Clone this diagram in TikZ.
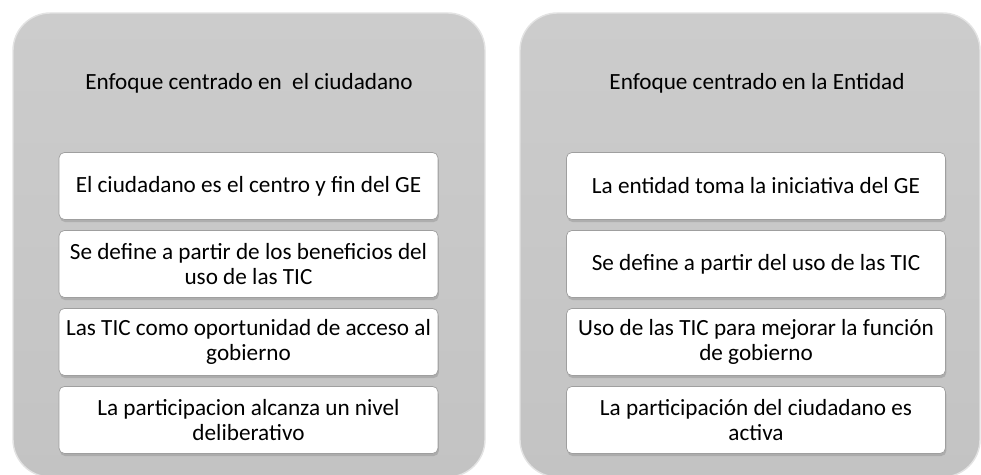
\documentclass[tikz,border=0pt]{standalone}
\usepackage{fontspec}
\setmainfont{Carlito}
\usetikzlibrary{positioning,shadows}

\begin{document}
\begin{tikzpicture}[x=0.02cm, y=-0.02cm, node distance=1.56cm,
    panel/.style={rounded corners=0.75cm, top color=gray!40, bottom color=gray!47, draw=gray!22, line width=0.8pt},
    item/.style={rectangle, draw=gray!75, fill=white, rounded corners=3pt, minimum width=7.58cm, minimum height=1.34cm, inner sep=2pt, align=center, font=\fontsize{13.2}{13.8}\selectfont, drop shadow={shadow xshift=0.5pt, shadow yshift=-1.5pt, opacity=0.35}},
    title/.style={font=\fontsize{13.2}{14}\selectfont}]
    \useasboundingbox (0,0) rectangle (981,475);

    % panels
    \path[panel] (13,13) rectangle (485,477);
    \path[panel] (520,13) rectangle (980,477);

    % left side
    \node[title] (tc) at (249,83) {Enfoque centrado en \ el ciudadano};
    \node[item] (c1) at (248.5,186) {El ciudadano es el centro y fin del GE};
    \node[item, below of=c1] (c2) {Se define a partir de los beneficios del\\uso de las TIC};
    \node[item, below of=c2] (c3) {Las TIC como oportunidad de acceso al\\gobierno};
    \node[item, below of=c3] (c4) {La participacion alcanza un nivel\\deliberativo};

    % right side
    \node[title] (te) at (757,83) {Enfoque centrado en la Entidad};
    \node[item] (e1) at (756,186) {La entidad toma la iniciativa del GE};
    \node[item, below of=e1] (e2) {Se define a partir del uso de las TIC};
    \node[item, below of=e2] (e3) {Uso de las TIC para mejorar la función\\de gobierno};
    \node[item, below of=e3] (e4) {La participación del ciudadano es\\activa};
\end{tikzpicture}
\end{document}
